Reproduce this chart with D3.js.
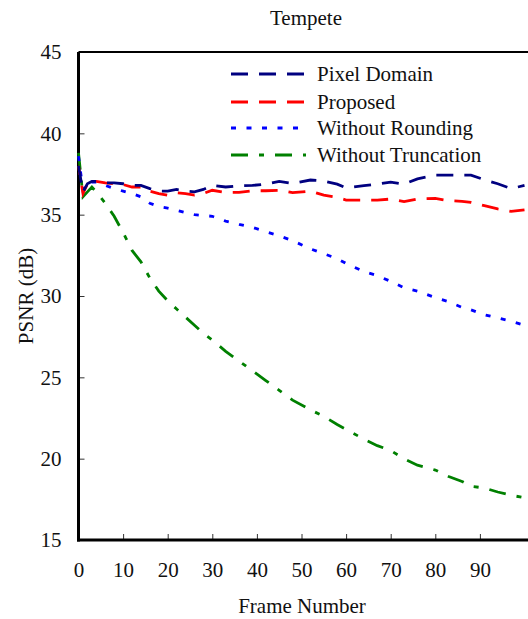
<!DOCTYPE html>
<html>
<head>
<meta charset="utf-8">
<script src="https://cdn.jsdelivr.net/npm/d3@7"></script>
<style>
body{margin:0;background:#fff;}
text{font-family:"Liberation Serif","Times New Roman",serif;fill:#111;}
</style>
</head>
<body>
<div id="graph"></div>
<script>
var frames=[0,1,2,3,4,6,8,10,12,14,16,18,20,22,24,26,28,30,33,36,39,42,45,48,52,55,58,60,64,67,70,73,76,80,83,86,88,91,94,97,100];

var pixelDomain=[38.0,36.4,36.9,37.05,37.05,36.95,36.95,36.9,36.8,36.8,36.6,36.45,36.45,36.55,36.45,36.4,36.55,36.8,36.7,36.78,36.8,36.88,37.05,36.92,37.13,37.07,36.88,36.65,36.78,36.88,37.0,36.88,37.2,37.43,37.43,37.43,37.43,37.15,36.9,36.6,36.8];
var proposed=[38.0,36.3,36.9,37.05,37.05,36.95,36.9,36.85,36.7,36.7,36.45,36.3,36.2,36.35,36.3,36.2,36.3,36.5,36.37,36.37,36.47,36.47,36.5,36.35,36.45,36.2,36.06,35.9,35.9,35.9,35.96,35.8,35.97,36.0,35.86,35.82,35.75,35.55,35.35,35.2,35.3];
var withoutRounding=[38.6,36.5,36.9,37.0,37.0,36.8,36.6,36.45,36.3,36.1,35.7,35.5,35.4,35.27,35.13,35.0,34.95,34.9,34.6,34.4,34.22,33.95,33.7,33.4,32.9,32.6,32.3,32.0,31.5,31.25,30.9,30.5,30.3,29.9,29.65,29.3,29.15,28.85,28.65,28.45,28.2];
var withoutTruncation=[38.8,36.1,36.4,36.7,36.4,35.7,34.9,33.9,32.8,32.1,31.1,30.3,29.7,29.2,28.7,28.2,27.7,27.3,26.6,26.0,25.4,24.8,24.2,23.6,23.0,22.6,22.1,21.8,21.2,20.8,20.5,20.0,19.6,19.3,18.9,18.6,18.3,18.2,17.95,17.75,17.6];

var seriesNames=["Pixel Domain","Proposed","Without Rounding","Without Truncation"];
var xTicks=[0,10,20,30,40,50,60,70,80,90];
var yTicks=[15,20,25,30,35,40,45];

var W=528, H=619;
var padL=78.5, padR=524.5, padT=52, padB=540;
var fs=21;

var x=d3.scaleLinear().domain([0,100]).range([padL,padR]);
var y=d3.scaleLinear().domain([15,45]).range([padB,padT]);

var svg=d3.select("#graph").append("svg").attr("width",W).attr("height",H);

// ticks (inside)
var gx=svg.append("g").attr("transform","translate(0,"+padB+")")
	.call(d3.axisBottom(x).tickValues(xTicks).tickSizeInner(-6).tickSizeOuter(0).tickPadding(16));
gx.select(".domain").remove();
gx.selectAll(".tick line").attr("stroke","#333").attr("stroke-width",1);
gx.selectAll(".tick text").attr("font-size",fs).attr("fill","#111")
	.style("font-family",'"Liberation Serif","Times New Roman",serif').attr("dy","1.0em");

var gy=svg.append("g").attr("transform","translate("+padL+",0)")
	.call(d3.axisLeft(y).tickValues(yTicks).tickSizeInner(-6).tickSizeOuter(0).tickPadding(17));
gy.select(".domain").remove();
gy.selectAll(".tick line").attr("stroke","#333").attr("stroke-width",1);
gy.selectAll(".tick text").attr("font-size",fs).attr("fill","#111")
	.style("font-family",'"Liberation Serif","Times New Roman",serif');

// frame lines
svg.append("line").attr("x1",padL).attr("x2",W).attr("y1",padT).attr("y2",padT)
	.attr("stroke","#000").attr("stroke-width",2);
svg.append("line").attr("x1",padL).attr("x2",padL).attr("y1",padT).attr("y2",padB+1.5)
	.attr("stroke","#000").attr("stroke-width",3);
svg.append("line").attr("x1",padL-1.5).attr("x2",W).attr("y1",padB).attr("y2",padB)
	.attr("stroke","#000").attr("stroke-width",3);

var styles=[
	{color:"#000080",dash:"17,11"},
	{color:"#ff0000",dash:"17,11"},
	{color:"#0000ff",dash:"5,10.5"},
	{color:"#008000",dash:"17,11,5,11"}
];
var allSeries=[pixelDomain,proposed,withoutRounding,withoutTruncation];

var line=d3.line().x(function(d,i){return x(frames[i]);}).y(function(d){return y(d);});

// draw in reverse so pixel domain ends on top
for(var k=allSeries.length-1;k>=0;k--){
	svg.append("path").datum(allSeries[k])
		.attr("d",line)
		.attr("fill","none")
		.attr("stroke",styles[k].color)
		.attr("stroke-width",2.8)
		.attr("stroke-dasharray",styles[k].dash)
		.attr("stroke-dashoffset",k==1?8:0);
}

// legend
var legY=[74,102,128,155];
for(var k=0;k<seriesNames.length;k++){
	svg.append("line").attr("x1",231).attr("x2",306).attr("y1",legY[k]).attr("y2",legY[k])
		.attr("stroke",styles[k].color).attr("stroke-width",2.8).attr("stroke-dasharray",styles[k].dash);
	svg.append("text").attr("x",317).attr("y",legY[k]+7).attr("font-size",fs).text(seriesNames[k]);
}

// titles
svg.append("text").attr("x",306).attr("y",25).attr("font-size",fs).attr("text-anchor","middle").text("Tempete");
svg.append("text").attr("x",302).attr("y",613).attr("font-size",fs).attr("text-anchor","middle").text("Frame Number");
svg.append("text").attr("transform","translate(33,"+((padT+padB)/2)+") rotate(-90)")
	.attr("font-size",fs).attr("text-anchor","middle").text("PSNR (dB)");
</script>
</body>
</html>
